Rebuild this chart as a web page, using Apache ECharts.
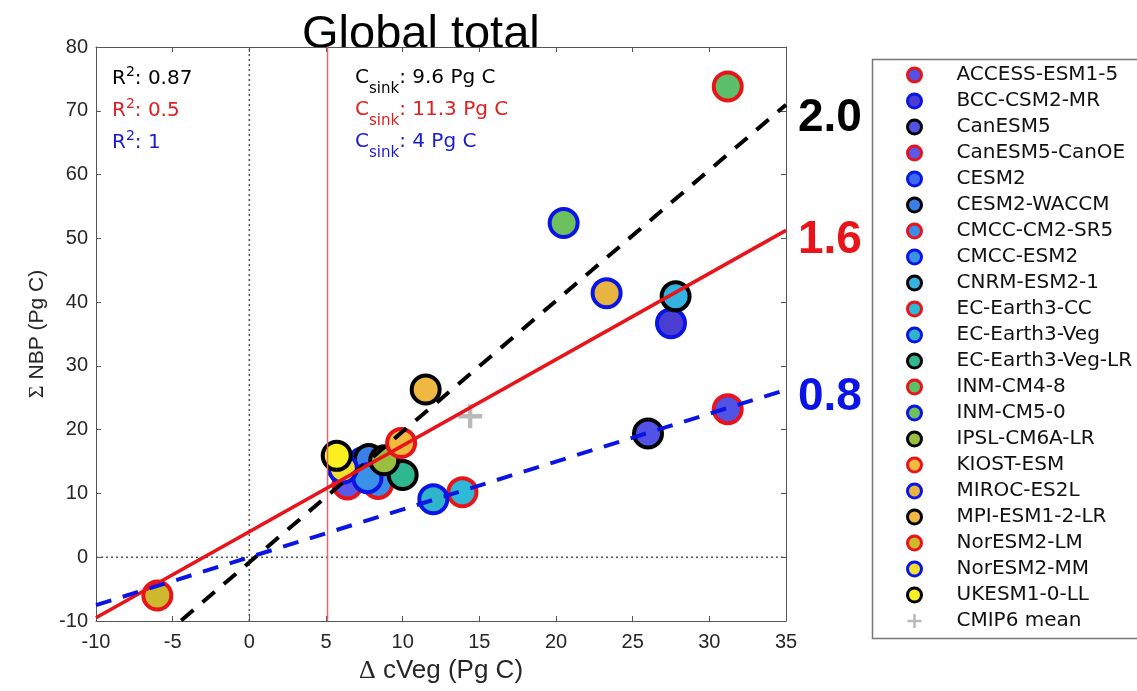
<!DOCTYPE html>
<html><head><meta charset="utf-8">
<script src="https://cdn.jsdelivr.net/npm/echarts@6/dist/echarts.min.js"></script>
<style>html,body{margin:0;padding:0;background:#fff}#c{width:1137px;height:691px}</style>
</head><body><div id="c"></div><script>
// ---- data ----
const models = ['ACCESS-ESM1-5','BCC-CSM2-MR','CanESM5','CanESM5-CanOE','CESM2','CESM2-WACCM','CMCC-CM2-SR5','CMCC-ESM2','CNRM-ESM2-1','EC-Earth3-CC','EC-Earth3-Veg','EC-Earth3-Veg-LR','INM-CM4-8','INM-CM5-0','IPSL-CM6A-LR','KIOST-ESM','MIROC-ES2L','MPI-ESM1-2-LR','NorESM2-LM','NorESM2-MM','UKESM1-0-LL'];
const dCVeg  = [31.2, 27.5, 26.0, 6.4, 7.4, 7.8, 8.4, 7.7, 27.8, 13.9, 12.0, 10.0, 31.2, 20.5, 8.8, 9.9, 23.3, 11.5, -6.0, 6.1, 5.7];
const sumNBP = [23.2, 36.7, 19.4, 11.4, 14.9, 15.4, 11.5, 12.4, 40.9, 10.2, 9.1, 12.9, 73.8, 52.4, 15.2, 17.9, 41.4, 26.3, -6.0, 13.9, 15.9];
const edgeColors = ['#e8141a','#0a14e6','#000000','#e8141a','#0a14e6','#000000','#e8141a','#0a14e6','#000000','#e8141a','#0a14e6','#000000','#e8141a','#0a14e6','#000000','#e8141a','#0a14e6','#000000','#e8141a','#0a14e6','#000000'];
const fillColors = ['#5252e6','#4a3ed2','#5252e6','#5a5ae8','#3b6cf0','#3a80e8','#3a8eea','#3a92e8','#34b2e2','#30b8d8','#30b4cc','#2fb890','#5cbf6a','#6cc05e','#9abf3e','#f2b840','#e8b440','#f0b840','#cdb82e','#f2e030','#f8f020'];
const meanName = 'CMIP6 mean';
const meanX = [14.4];
const meanY = [22.1];
const fitSlopes = [2.05, 1.35, 0.75];
const fitIntercepts = [-0.8, 4.0, 0.0];
const fitColors = ['#000000', '#e8141a', '#0a14e6'];
const textColors = ['#000000', '#e02020', '#1a1ad0'];
const fitTypes = [[16, 12], 'solid', [16, 12]];
const sensLabels = ['2.0', '1.6', '0.8'];
const r2Labels = ['0.87', '0.5', '1'];
const csinkLabels = ['9.6 Pg C', '11.3 Pg C', '4 Pg C'];
const threshX = 5.1;
const xMin = -10, xMax = 35, xStep = 5;
const yMin = -10, yMax = 80, yStep = 10;

const FONT = "'Liberation Sans', Arial, sans-serif";
const FONT2 = "'DejaVu Sans', sans-serif";
const chart = echarts.init(document.getElementById('c'), null, {renderer: 'canvas'});

const series = [];
models.forEach((m, i) => {
  series.push({
    name: m, type: 'scatter', z: 2,
    symbol: 'circle', symbolSize: 28,
    itemStyle: {color: fillColors[i], borderColor: edgeColors[i], borderWidth: 4, opacity: 1},
    emphasis: {disabled: true},
    data: [[dCVeg[i], sumNBP[i]]]
  });
});
const plusPath = 'path://M9,0h4v9h9v4h-9v9h-4v-9h-9v-4h9z';
series.push({
  name: meanName, type: 'scatter', z: 2, symbol: plusPath, symbolSize: 24,
  itemStyle: {color: '#a8a8a8', borderColor: '#a8a8a8', borderWidth: 0},
  data: meanX.map((x, i) => [x, meanY[i]])
});
fitSlopes.forEach((s, i) => {
  series.push({
    type: 'line', z: 5, symbol: 'none', silent: true, clip: true,
    lineStyle: {color: fitColors[i], width: i === 1 ? 3.5 : 4, type: fitTypes[i]},
    data: [[xMin, s * xMin + fitIntercepts[i]], [xMax, s * xMax + fitIntercepts[i]]]
  });
});
series.push({
  type: 'line', z: 4, symbol: 'none', silent: true,
  lineStyle: {color: '#e06a6a', width: 1.5},
  data: [[threshX, yMin], [threshX, yMax]]
});
series.push({
  type: 'line', z: 1, symbol: 'none', silent: true,
  lineStyle: {color: '#555', width: 1.5, type: [2, 3]},
  data: [[0, yMin], [0, yMax]]
});
series.push({
  type: 'line', z: 1, symbol: 'none', silent: true,
  lineStyle: {color: '#555', width: 1.5, type: [2, 3]},
  data: [[xMin, 0], [xMax, 0]]
});

const axisCommon = {
  axisLine: {show: true, onZero: false, lineStyle: {color: '#555', width: 1}},
  axisTick: {show: true, inside: true, length: 5, lineStyle: {color: '#555'}},
  splitLine: {show: false}
};
const labelStyle = {color: '#262626', fontSize: 20, fontFamily: FONT};

const legendData = models.map(m => ({name: m, itemStyle: {borderWidth: 3}}));
legendData.push({name: meanName, itemStyle: {borderWidth: 0}});

function supText(text, color) {
  return {
    type: 'text',
    style: {
      text: '{a|R}{p|2}{a|: ' + text + '}',
      rich: {
        a: {fontSize: 20, fontFamily: FONT2, fill: color, lineHeight: 24, verticalAlign: 'bottom'},
        p: {fontSize: 14, fontFamily: FONT2, fill: color, lineHeight: 14, verticalAlign: 'top'}
      }
    }
  };
}
function subText(text, color) {
  return {
    type: 'text',
    style: {
      text: '{a|C}{s|sink}{a|: ' + text + '}',
      rich: {
        a: {fontSize: 20, fontFamily: FONT2, fill: color, lineHeight: 20},
        s: {fontSize: 15, fontFamily: FONT2, fill: color, lineHeight: 14, padding: [24, 0, 0, 0]}
      }
    }
  };
}
const graphics = [];
const rowCenters = [77, 109, 141];
r2Labels.forEach((t, i) => { const g = supText(t, textColors[i]); g.left = 112; g.top = rowCenters[i] - 12; graphics.push(g); });
csinkLabels.forEach((t, i) => { const g = subText(t, textColors[i]); g.left = 355; g.top = rowCenters[i] - 19; graphics.push(g); });
const sensCenters = [121, 243, 400];
sensLabels.forEach((t, i) => graphics.push({
  type: 'text', left: 798, top: sensCenters[i] - 26,
  style: {text: t, fill: fitColors[i], font: 'bold 46px ' + FONT}
}));
graphics.push({
  type: 'text', left: 302, top: 12,
  style: {text: 'Global total', fill: '#000', font: '47px ' + FONT}
});
graphics.push({
  type: 'rect', left: 870, top: 57, z: -1,
  shape: {x: 0, y: 0, width: 300, height: 579},
  style: {fill: 'none', stroke: '#777', lineWidth: 1.5}
});

chart.setOption({
  animation: false,
  backgroundColor: '#fff',
  grid: {left: 96, right: 351, top: 47, bottom: 70, containLabel: false},
  xAxis: [
    Object.assign({type: 'value', min: xMin, max: xMax, interval: xStep, position: 'bottom',
      axisLabel: Object.assign({margin: 11}, labelStyle),
      name: '{s|Δ} cVeg (Pg C)', nameLocation: 'middle', nameGap: 37,
      nameTextStyle: {fontSize: 26, color: '#262626', fontFamily: FONT, rich: {s: {fontSize: 26, fontFamily: "'Liberation Serif', serif", color: '#262626'}}}
    }, axisCommon),
    Object.assign({type: 'value', min: xMin, max: xMax, interval: xStep, position: 'top', axisLabel: {show: false}}, axisCommon)
  ],
  yAxis: [
    Object.assign({type: 'value', min: yMin, max: yMax, interval: yStep, position: 'left',
      axisLabel: Object.assign({margin: 8}, labelStyle),
      name: '{s|Σ} NBP (Pg C)', nameLocation: 'middle', nameGap: 46,
      nameTextStyle: {fontSize: 21, color: '#262626', fontFamily: FONT, rich: {s: {fontSize: 22, fontFamily: "'Liberation Serif', serif", color: '#262626'}}}
    }, axisCommon),
    Object.assign({type: 'value', min: yMin, max: yMax, interval: yStep, position: 'right', axisLabel: {show: false}}, axisCommon)
  ],
  legend: {
    orient: 'vertical', left: 906, top: 65, padding: 0,
    itemWidth: 14, itemHeight: 14, itemGap: 6,
    selectedMode: false,
    data: legendData,
    textStyle: {fontSize: 20, fontFamily: FONT2, color: '#111', lineHeight: 20, padding: [0, 0, 0, 30]}
  },
  graphic: graphics,
  series: series
});
</script></body></html>
